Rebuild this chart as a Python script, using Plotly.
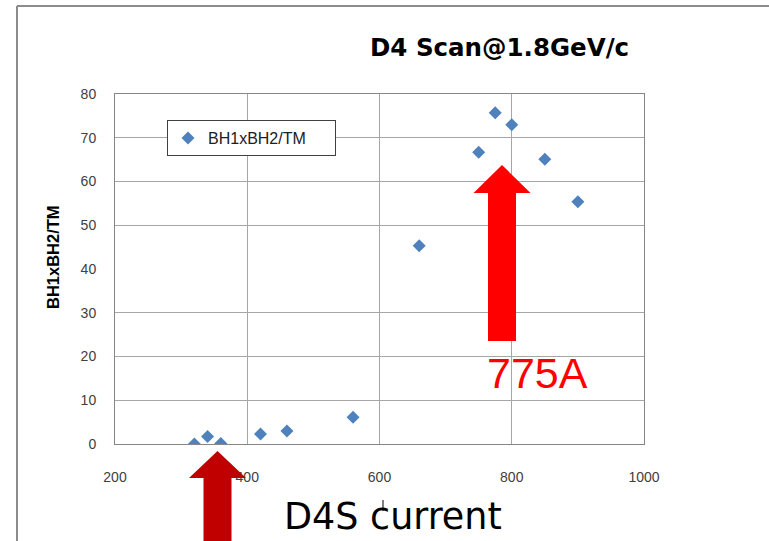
import plotly.graph_objects as go

# ---- data ----
d4_current = [320, 340, 360, 420, 460, 560, 660, 750, 775, 800, 850, 900]
bh_ratio = [0.0, 1.7, 0.1, 2.3, 3.0, 6.1, 45.3, 66.7, 75.7, 73.0, 65.1, 55.4]
series_name = "BH1xBH2/TM"
x_ticks = [200, 400, 600, 800, 1000]
y_ticks = [0, 10, 20, 30, 40, 50, 60, 70, 80]
y_grid = [10, 20, 30, 50, 60, 70]

W, H = 769, 541
L, R, T, B = 115, 125, 94, 97
PW, PH = W - L - R, H - T - B


def px(x):
    return (x - L) / PW


def py(y):
    return (H - B - y) / PH


fig = go.Figure()
fig.add_trace(go.Scatter(
    x=d4_current, y=bh_ratio, mode="markers", name=series_name,
    marker=dict(symbol="diamond", size=10, color="#4F81BD"),
))
fig.add_trace(go.Scatter(
    x=d4_current, y=bh_ratio, yaxis="y2", mode="markers", showlegend=False,
    marker=dict(opacity=0), hoverinfo="skip",
))

tick_font = dict(family="Liberation Sans, Arial", size=14, color="#404040")
fig.update_layout(
    width=W, height=H, margin=dict(l=L, r=R, t=T, b=B, autoexpand=False),
    paper_bgcolor="white", plot_bgcolor="white",
    showlegend=True,
    legend=dict(x=px(167), y=py(120), xanchor="left", yanchor="top",
                orientation="h", entrywidth=122, entrywidthmode="pixels",
                bgcolor="white", bordercolor="#404040", borderwidth=1,
                font=dict(family="Liberation Sans, Arial", size=16, color="#202020")),
    xaxis=dict(range=[200, 1000], tickvals=x_ticks, showgrid=True, gridcolor="#A6A6A6",
               gridwidth=1, showline=True, linecolor="#868686", linewidth=1, mirror=True,
               zeroline=False, ticks="outside", ticklen=20, tickcolor="rgba(0,0,0,0)",
               tickfont=tick_font),
    yaxis=dict(range=[0, 80], tickvals=y_ticks, showgrid=False, showline=True,
               linecolor="#868686", linewidth=1, mirror=True, zeroline=False,
               ticks="outside", ticklen=15, tickcolor="rgba(0,0,0,0)", tickfont=tick_font),
    yaxis2=dict(range=[0, 80], overlaying="y", tickvals=y_grid, showticklabels=False,
                showgrid=True, gridcolor="#A6A6A6", gridwidth=1, showline=False,
                zeroline=False, ticks=""),
)

# slide frame
frame = dict(color="#8C8C8C", width=2)
fig.add_shape(type="line", xref="paper", yref="paper", x0=px(17), x1=px(W + 5),
              y0=py(6), y1=py(6), line=frame)
fig.add_shape(type="line", xref="paper", yref="paper", x0=px(17), x1=px(17),
              y0=py(6), y1=py(H + 5), line=frame)


def arrow(tip_x, tip_y, base_y, half_head, half_shaft, bottom, color):
    p = (f"M {px(tip_x)} {py(tip_y)} L {px(tip_x + half_head)} {py(base_y)} "
         f"L {px(tip_x + half_shaft)} {py(base_y)} L {px(tip_x + half_shaft)} {py(bottom)} "
         f"L {px(tip_x - half_shaft)} {py(bottom)} L {px(tip_x - half_shaft)} {py(base_y)} "
         f"L {px(tip_x - half_head)} {py(base_y)} Z")
    fig.add_shape(type="path", xref="paper", yref="paper", path=p,
                  fillcolor=color, line=dict(width=0), layer="above")


arrow(502, 165, 193, 28.5, 14, 341, "#FF0000")
arrow(217.5, 451, 478, 28.5, 14, H + 10, "#C00000")

# stray tick above "current"
fig.add_shape(type="line", xref="paper", yref="paper", x0=px(383), x1=px(383),
              y0=py(500), y1=py(511), line=dict(color="black", width=1))

fig.add_annotation(text="<b>D4 Scan@1.8GeV/c</b>", xref="paper", yref="paper",
                   x=px(368), y=py(47.5), xanchor="left", yanchor="middle", showarrow=False,
                   font=dict(family="DejaVu Sans", size=24.5, color="black"))
fig.add_annotation(text="<b>BH1xBH2/TM</b>", xref="paper", yref="paper",
                   x=px(53), y=py(257), xanchor="center", yanchor="middle", showarrow=False,
                   textangle=-90, font=dict(family="Liberation Sans, Arial", size=16.5, color="black"))
fig.add_annotation(text="775A", xref="paper", yref="paper",
                   x=px(485), y=py(372.5), xanchor="left", yanchor="middle", showarrow=False,
                   font=dict(family="Liberation Sans, Arial", size=43, color="#FF0000"))
fig.add_annotation(text="D4S current", xref="paper", yref="paper",
                   x=px(282), y=py(516.5), xanchor="left", yanchor="middle", showarrow=False,
                   font=dict(family="DejaVu Sans", size=36.5, color="black"))

fig.write_html("out.html")
